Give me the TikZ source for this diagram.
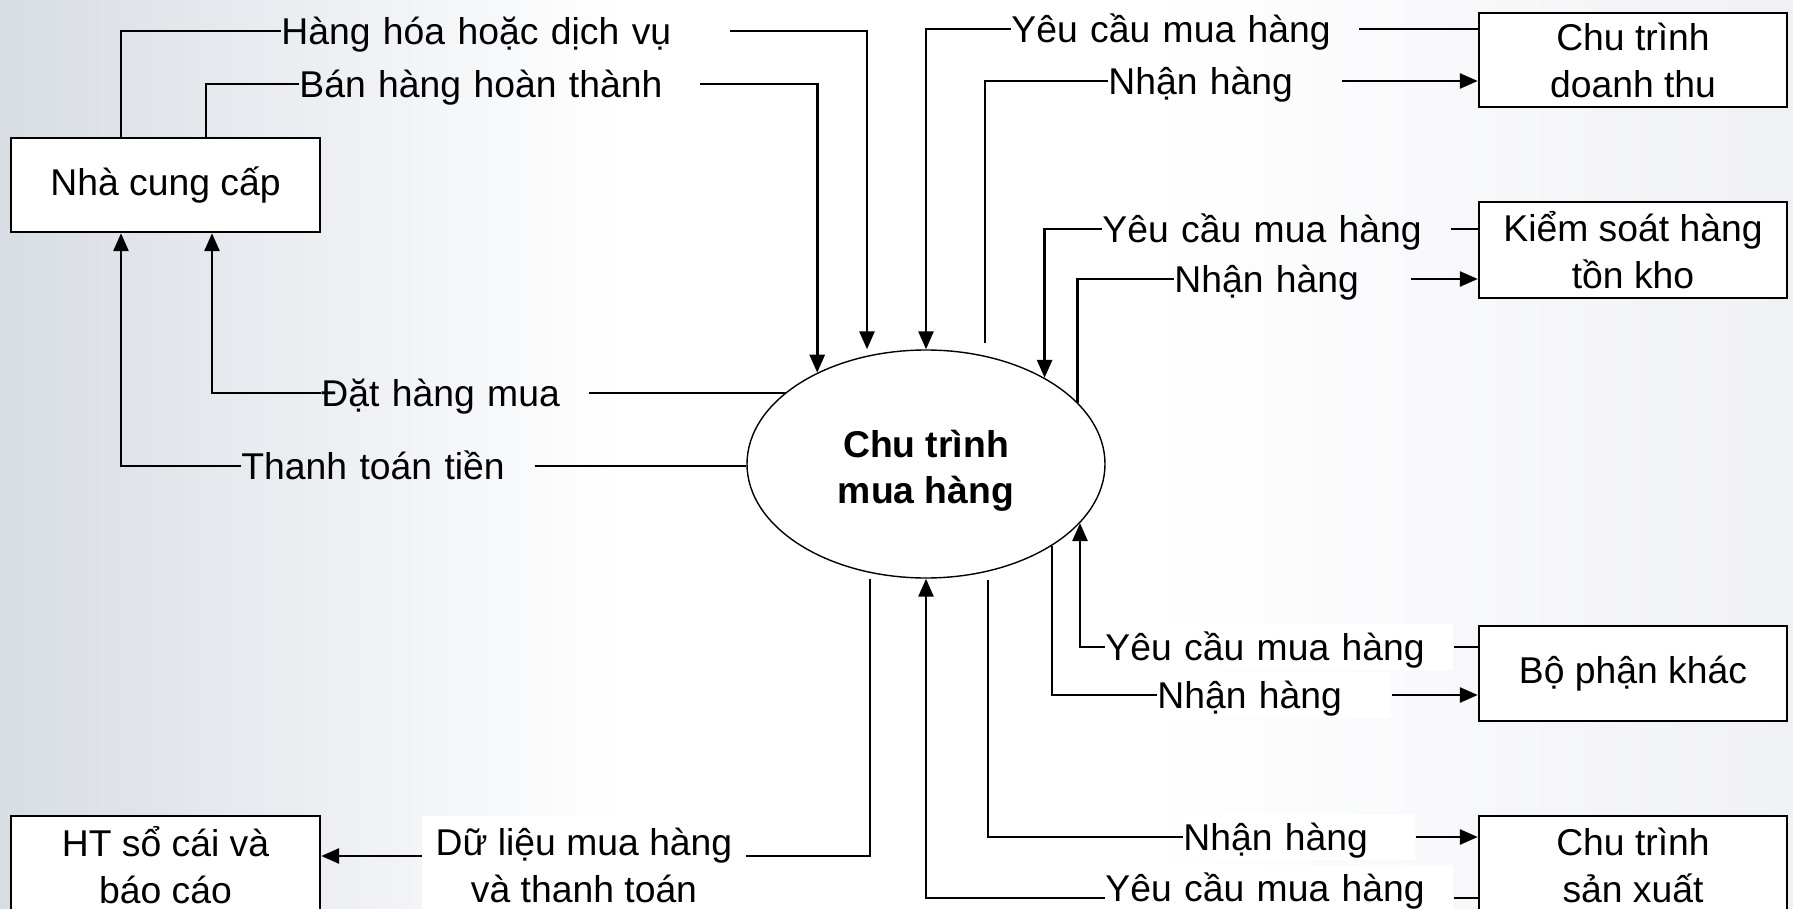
\documentclass[tikz,border=0pt]{standalone}
\usepackage{fontspec}
\setmainfont{Liberation Sans}
\usetikzlibrary{arrows.meta,shapes.geometric}
\definecolor{bgL}{RGB}{216,221,228}
\definecolor{bgR}{RGB}{240,241,245}
\begin{document}
\begin{tikzpicture}[x=0.5pt,y=-0.5pt,
  every node/.style={font=\fontsize{18.65pt}{23.5pt}\selectfont},
  box/.style={draw, line width=1.2pt, fill=white, align=center, inner sep=0pt, minimum width=154pt},
  lbl/.style={anchor=west, inner xsep=0pt, inner ysep=0.8pt, text height=17.35pt, text depth=4pt, align=left},
  wlbl/.style={lbl, fill=white},
  con/.style={line width=1.4pt},
  arr/.style={con, -{Triangle[length=9pt,width=7.5pt]}}]
\useasboundingbox (0,0) rectangle (1793,909);
\clip (0,0) rectangle (1793,909);
\fill[white] (0,0) rectangle (1793,909);
\shade[left color=bgL, right color=white] (0,0) rectangle (620,909);
\shade[left color=white, right color=bgR] (1150,0) rectangle (1793,909);

% boxes
\node[box, minimum width=154.5pt, minimum height=47pt] (ncc) at (165.5,185) {Nhà cung cấp};
\node[box, minimum height=47pt] (ctdt) at (1633,60) {Chu trình\\doanh thu};
\node[box, minimum height=48pt] (kshtk) at (1633,250) {Kiểm soát hàng\\tồn kho};
\node[box, minimum height=47.5pt] (bpk) at (1633,673.5) {Bộ phận khác};
\node[box, minimum height=49pt] (ctsx) at (1633,865) {Chu trình\\sản xuất};
\node[box, minimum width=154.5pt, minimum height=49pt] (ht) at (165.5,865) {HT sổ cái và\\báo cáo};

% central process
\node[ellipse, draw, line width=0.7pt, fill=white, minimum width=179pt, minimum height=114pt, inner sep=0pt, align=center, font=\bfseries\fontsize{18.65pt}{23pt}\selectfont] (e) at (926,464) {\rule{0pt}{20.5pt}Chu trình\\mua hàng};

% labels
\node[lbl, text width=224pt] (la) at (281,31) {Hàng hóa hoặc dịch vụ};
\node[lbl, text width=200pt] (lb) at (299,84) {Bán hàng hoàn thành};
\node[lbl, text width=133.5pt] (lc) at (321,393) {Đặt hàng mua};
\node[lbl, text width=146.5pt] (ld) at (241,466) {Thanh toán tiền};
\node[lbl, text width=173.5pt] (le) at (1011,29) {Yêu cầu mua hàng};
\node[lbl, text width=116.5pt] (lf) at (1108,81) {Nhận hàng};
\node[lbl, text width=174pt] (lg) at (1102,229) {Yêu cầu mua hàng};
\node[lbl, text width=118pt] (lh) at (1174,279) {Nhận hàng};
\node[wlbl, text width=174pt] (li) at (1105,647) {Yêu cầu mua hàng};
\node[wlbl, text width=117pt] (lj) at (1157,695) {Nhận hàng};
\node[wlbl, text width=116pt] (lk) at (1183,837) {Nhận hàng};
\node[wlbl, text width=174pt] (ll) at (1105,888) {Yêu cầu mua hàng};
\node[fill=white, inner sep=0pt, minimum width=162pt, minimum height=49pt, align=center] (dl) at (584,865) {Dữ liệu mua hàng\\và thanh toán};
\coordinate (mline) at (0,856);
\coordinate (lline) at (0,898);

% connectors
\draw[con] ([xshift=-22.25pt]ncc.north) |- (la.west);
\draw[arr] (la.east) -| ([xshift=-29.5pt]e.north);
\draw[con] ([xshift=20.25pt]ncc.north) |- (lb.west);
\draw[arr] (lb.east) -| (e.140);
\draw[con] (lc.east -| e.153) -- (lc.east);
\draw[arr] (lc.west) -| ([xshift=23.25pt]ncc.south);
\draw[con] (ld.east -| e.west) -- (ld.east);
\draw[arr] (ld.west) -| ([xshift=-22.25pt]ncc.south);
\draw[con] (le.east) -- (le.east -| ctdt.west);
\draw[arr] (le.west) -| (e.north);
\draw[con] ([xshift=29.5pt,yshift=3pt]e.north) |- (lf.west);
\draw[arr] (lf.east) -- (lf.east -| ctdt.west);
\draw[con] (lg.east) -- (lg.east -| kshtk.west);
\draw[arr] (lg.west) -| (e.36);
\draw[con] (e.22) |- (lh.west);
\draw[arr] (lh.east) -- (lh.east -| kshtk.west);
\draw[con] (li.east) -- (li.east -| bpk.west);
\draw[arr] (li.west) -| (e.339);
\draw[con] (e.327) |- (lj.west);
\draw[arr] (lj.east) -- (lj.east -| bpk.west);
\draw[con] ([xshift=31pt,yshift=-0.5pt]e.south) |- (lk.west);
\draw[arr] (lk.east) -- (lk.east -| ctsx.west);
\draw[con] (ll.east |- lline) -- (ctsx.west |- lline);
\draw[arr] (ll.west |- lline) -| (e.south);
\draw[con] ([xshift=-28pt]e.south) |- (dl.east |- mline);
\draw[arr] (dl.west |- mline) -- (ht.east |- mline);
\end{tikzpicture}
\end{document}
